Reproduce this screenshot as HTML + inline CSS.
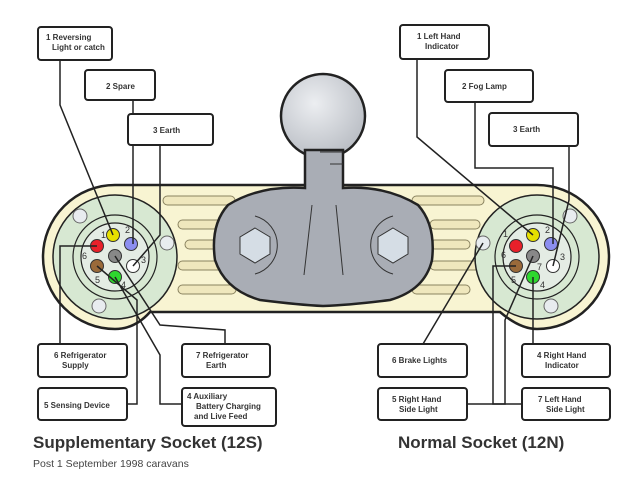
<!DOCTYPE html>
<html><head><meta charset="utf-8"><style>
html,body{margin:0;padding:0;background:#fff;}
svg{display:block;font-family:"Liberation Sans",sans-serif;}
.b{fill:#fff;stroke:#222;stroke-width:2;}
.l{fill:none;stroke:#222;stroke-width:1.5;}
.t{font-size:8px;font-weight:bold;fill:#333;}
</style></head><body>
<svg width="640" height="480" viewBox="0 0 640 480" xmlns="http://www.w3.org/2000/svg">
<defs><radialGradient id="g" cx="0.4" cy="0.35" r="0.7"><stop offset="0" stop-color="#eceef1"/><stop offset="1" stop-color="#b8bcc3"/></radialGradient></defs>
<path d="M115,185 L537,185 A72,72 0 0 1 537,329 Q520,329 500,312 L150,312 Q135,329 115,329 A72,72 0 0 1 115,185 Z" fill="#f8f4d2" stroke="#222" stroke-width="2.5"/>
<g fill="#efe7bd" stroke="#8a8360" stroke-width="1">
<rect x="163" y="196" width="72" height="9" rx="4.5"/>
<rect x="178" y="220" width="50" height="9" rx="4.5"/>
<rect x="185" y="240" width="40" height="9" rx="4.5"/>
<rect x="178" y="261" width="50" height="9" rx="4.5"/>
<rect x="178" y="285" width="58" height="9" rx="4.5"/>
<rect x="412" y="196" width="72" height="9" rx="4.5"/>
<rect x="430" y="220" width="50" height="9" rx="4.5"/>
<rect x="430" y="240" width="40" height="9" rx="4.5"/>
<rect x="430" y="261" width="50" height="9" rx="4.5"/>
<rect x="412" y="285" width="58" height="9" rx="4.5"/>
</g>
<circle cx="115" cy="257" r="62" fill="#d7e8d2" stroke="#222" stroke-width="1.5"/>
<circle cx="115" cy="257" r="42" fill="none" stroke="#222" stroke-width="1.2"/>
<circle cx="115" cy="257" r="34" fill="#e4ece4" stroke="#222" stroke-width="1.2"/>
<circle cx="537" cy="257" r="62" fill="#d7e8d2" stroke="#222" stroke-width="1.5"/>
<circle cx="537" cy="257" r="42" fill="none" stroke="#222" stroke-width="1.2"/>
<circle cx="537" cy="257" r="34" fill="#e4ece4" stroke="#222" stroke-width="1.2"/>
<g fill="#e8ecef" stroke="#666" stroke-width="1">
<circle cx="80" cy="216" r="7"/><circle cx="167" cy="243" r="7"/><circle cx="99" cy="306" r="7"/>
<circle cx="570" cy="216" r="7"/><circle cx="483" cy="243" r="7"/><circle cx="551" cy="306" r="7"/>
</g>
<circle cx="323" cy="116" r="42" fill="url(#g)" stroke="#222" stroke-width="2.5"/>
<path d="M305,150 L305,188 Q260,185 228,205 Q210,225 215,260 Q225,290 260,300 Q300,305 323,306 Q350,305 390,300 Q425,290 432,260 Q436,225 418,205 Q385,185 343,188 L343,150 Z" fill="#a9adb5" stroke="#222" stroke-width="2.5"/>
<path d="M312,205 L304,275 M336,205 L343,275 M320,152 L343,152 M330,164 L343,164" stroke="#333" stroke-width="1" fill="none"/>
<g fill="none" stroke="#333" stroke-width="1">
<path d="M255,216 A30,30 0 0 1 255,274"/>
<path d="M393,216 A30,30 0 0 0 393,274"/>
</g>
<g stroke="#333" stroke-width="1">
<polygon points="255,228 270,237 270,254 255,263 240,254 240,237" fill="#d5dde5"/>
<polygon points="393,228 408,237 408,254 393,263 378,254 378,237" fill="#d5dde5"/>
</g>
<g stroke="#333" stroke-width="1">
<circle cx="113" cy="235" r="6.5" fill="#e6e000"/><circle cx="131" cy="244" r="6.5" fill="#8c8ef0"/>
<circle cx="133" cy="266" r="6.5" fill="#fff"/><circle cx="115" cy="277" r="6.5" fill="#2ed82e"/>
<circle cx="97" cy="266" r="6.5" fill="#9a6a3a"/><circle cx="97" cy="246" r="6.5" fill="#e8202a"/>
<circle cx="115" cy="256" r="6.5" fill="#888"/>
<circle cx="533" cy="235" r="6.5" fill="#e6e000"/><circle cx="551" cy="244" r="6.5" fill="#8c8ef0"/>
<circle cx="553" cy="266" r="6.5" fill="#fff"/><circle cx="533" cy="277" r="6.5" fill="#2ed82e"/>
<circle cx="516" cy="266" r="6.5" fill="#9a6a3a"/><circle cx="516" cy="246" r="6.5" fill="#e8202a"/>
<circle cx="533" cy="256" r="6.5" fill="#888"/>
</g>
<g font-size="9" fill="#333">
<text x="101" y="238">1</text><text x="125" y="233">2</text><text x="141" y="263">3</text><text x="121" y="288">4</text><text x="95" y="283">5</text><text x="82" y="259">6</text>
<text x="503" y="237">1</text><text x="545" y="233">2</text><text x="560" y="260">3</text><text x="540" y="288">4</text><text x="511" y="283">5</text><text x="501" y="258">6</text><text x="537" y="270">7</text>
</g>
<g class="l">
<path d="M60,60 L60,105 L113,235"/>
<path d="M133,100 L133,244"/>
<path d="M160,145 L160,235 L133,266"/>
<path d="M97,246 L60,246 L60,344"/>
<path d="M97,266 L137,300 L137,404 L127,404"/>
<path d="M115,256 L160,325 L225,330 L225,344"/>
<path d="M115,277 L160,355 L160,404 L182,404"/>
<path d="M417,59 L417,137 L533,235"/>
<path d="M475,102 L475,168 L553,168 L553,244"/>
<path d="M569,146 L569,200 L553,266"/>
<path d="M483,243 L423,344"/>
<path d="M516,266 L493,266 L493,404 L522,404"/>
<path d="M533,256 L505,320 L505,404 L467,404"/>
<path d="M533,277 L533,344"/>
</g>
<g class="b">
<rect x="38" y="27" width="74" height="33" rx="3"/>
<rect x="85" y="70" width="70" height="30" rx="3"/>
<rect x="128" y="114" width="85" height="31" rx="3"/>
<rect x="38" y="344" width="89" height="33" rx="3"/>
<rect x="38" y="388" width="89" height="32" rx="3"/>
<rect x="182" y="344" width="88" height="33" rx="3"/>
<rect x="182" y="388" width="94" height="38" rx="3"/>
<rect x="400" y="25" width="89" height="34" rx="3"/>
<rect x="445" y="70" width="88" height="32" rx="3"/>
<rect x="489" y="113" width="89" height="33" rx="3"/>
<rect x="378" y="344" width="89" height="33" rx="3"/>
<rect x="522" y="344" width="88" height="33" rx="3"/>
<rect x="378" y="388" width="89" height="32" rx="3"/>
<rect x="522" y="388" width="88" height="32" rx="3"/>
</g>
<g class="t">
<text x="46" y="40">1 Reversing</text><text x="52" y="50">Light or catch</text>
<text x="106" y="89">2 Spare</text>
<text x="153" y="133">3 Earth</text>
<text x="54" y="358">6 Refrigerator</text><text x="62" y="368">Supply</text>
<text x="44" y="408">5 Sensing Device</text>
<text x="196" y="358">7 Refrigerator</text><text x="206" y="368">Earth</text>
<text x="187" y="399">4 Auxiliary</text><text x="196" y="409">Battery Charging</text><text x="194" y="419">and Live Feed</text>
<text x="417" y="39">1 Left Hand</text><text x="425" y="49">Indicator</text>
<text x="462" y="89">2 Fog Lamp</text>
<text x="513" y="132">3 Earth</text>
<text x="392" y="363">6 Brake Lights</text>
<text x="537" y="358">4 Right Hand</text><text x="545" y="368">Indicator</text>
<text x="392" y="402">5 Right Hand</text><text x="399" y="412">Side Light</text>
<text x="538" y="402">7 Left Hand</text><text x="546" y="412">Side Light</text>
</g>
<text x="33" y="448" font-size="17" font-weight="bold" fill="#333">Supplementary Socket (12S)</text>
<text x="398" y="448" font-size="17" font-weight="bold" fill="#333">Normal Socket (12N)</text>
<text x="33" y="467" font-size="10.5" fill="#444">Post 1 September 1998 caravans</text>
</svg>
</body></html>
